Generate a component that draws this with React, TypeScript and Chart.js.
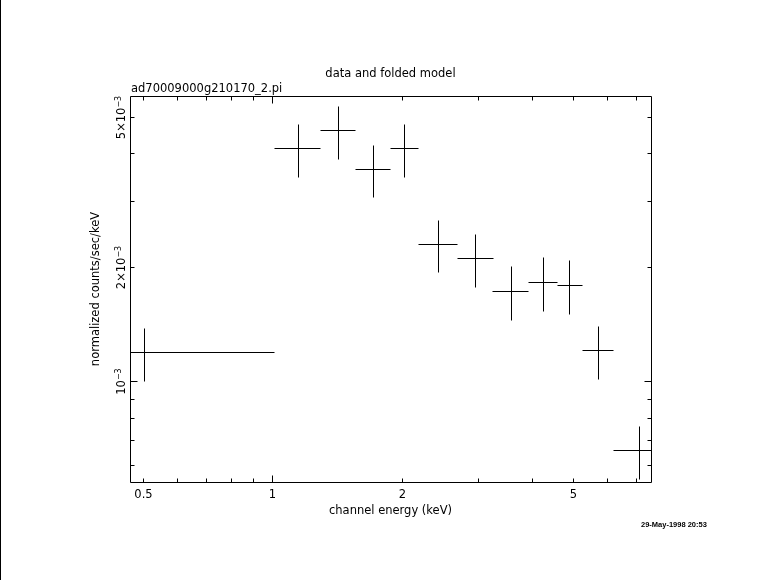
import { useEffect, useRef } from 'react';
import { Chart, registerables } from 'chart.js';

Chart.register(...registerables);

// ---- data (channel energy in keV, normalized counts/sec/keV) ----
const energy = [0.504, 1.148, 1.421, 1.717, 2.027, 2.427, 2.963, 3.589, 4.252, 4.898, 5.71, 7.117];
const energyErr = [0.504, 0.141, 0.134, 0.164, 0.147, 0.253, 0.283, 0.344, 0.319, 0.327, 0.485, 0.922];
const rate = [1.193e-3, 4.124e-3, 4.6e-3, 3.63e-3, 4.12e-3, 2.305e-3, 2.113e-3, 1.731e-3, 1.829e-3, 1.793e-3, 1.207e-3, 0.6586e-3];
const rateErr = [0.189e-3, 0.655e-3, 0.73e-3, 0.565e-3, 0.65e-3, 0.366e-3, 0.336e-3, 0.28e-3, 0.298e-3, 0.291e-3, 0.196e-3, 0.105e-3];

// ---- axes ----
const X_MIN = 0.4671;
const X_MAX = 7.576;
const Y_MIN = 5.42e-4;
const Y_MAX = 5.666e-3;
const xMajorTicks = [1];
const xMinorTicks = [0.5, 0.6, 0.7, 0.8, 0.9, 2, 3, 4, 5, 6, 7];
const xLabelValues = [0.5, 1, 2, 5];
const xLabelTexts = ['0.5', '1', '2', '5'];
const yMajorTicks = [1e-3];
const yMinorTicks = [6e-4, 7e-4, 8e-4, 9e-4, 2e-3, 3e-3, 4e-3, 5e-3];
const yLabelValues = [1e-3, 2e-3, 5e-3];
const yLabelMantissa = ['', '2\u00d7', '5\u00d7'];
const yLabelExponent = '\u22123';

const TITLE = 'data and folded model';
const FILE_LABEL = 'ad70009000g210170_2.pi';
const X_TITLE = 'channel energy (keV)';
const Y_TITLE = 'normalized counts/sec/keV';
const DATE_LABEL = '29-May-1998 20:53';

const FONT = '"DejaVu Sans", sans-serif';

const pgplotPlugin = {
  id: 'pgplotFrame',
  afterDraw(chart: any) {
    const { ctx, chartArea: a, scales } = chart;
    const xs = scales.x;
    const ys = scales.y;
    const px = (v: number) => Math.round(xs.getPixelForValue(v)) + 0.5;
    const py = (v: number) => Math.round(ys.getPixelForValue(v)) + 0.5;
    const L = a.left + 0.5, R = a.right + 0.5, T = a.top + 0.5, B = a.bottom + 0.5;

    ctx.save();
    ctx.strokeStyle = '#000';
    ctx.fillStyle = '#000';
    ctx.lineWidth = 1;

    // page left edge line
    ctx.fillRect(0, 0, 1, chart.height);

    // frame
    ctx.beginPath();
    ctx.rect(L, T, R - L, B - T);
    ctx.stroke();

    // ticks (inside)
    const xTick = (v: number, len: number) => {
      const x = px(v);
      ctx.moveTo(x, B); ctx.lineTo(x, B - len);
      ctx.moveTo(x, T); ctx.lineTo(x, T + len);
    };
    const yTick = (v: number, len: number) => {
      const y = py(v);
      ctx.moveTo(L, y); ctx.lineTo(L + len, y);
      ctx.moveTo(R, y); ctx.lineTo(R - len, y);
    };
    ctx.beginPath();
    xMajorTicks.forEach((v) => xTick(v, 7));
    xMinorTicks.forEach((v) => xTick(v, 4));
    yMajorTicks.forEach((v) => yTick(v, 7));
    yMinorTicks.forEach((v) => yTick(v, 4));
    ctx.stroke();

    // error-bar crosses
    ctx.save();
    ctx.beginPath();
    ctx.rect(a.left, a.top, a.right - a.left + 1, a.bottom - a.top + 1);
    ctx.clip();
    ctx.beginPath();
    const pts = chart.data.datasets[0].data;
    pts.forEach((p: any) => {
      const lo = p.x - p.xErr;
      const x1 = lo > 0 ? px(lo) : L;
      const x2 = px(p.x + p.xErr);
      const y = py(p.y);
      ctx.moveTo(x1, y); ctx.lineTo(x2, y);
      const x = px(p.x);
      ctx.moveTo(x, py(p.y + p.yErr)); ctx.lineTo(x, py(p.y - p.yErr));
    });
    ctx.stroke();
    ctx.restore();

    // texts
    const cx = (a.left + a.right) / 2;
    ctx.font = `11.5px ${FONT}`;
    ctx.textBaseline = 'alphabetic';
    ctx.textAlign = 'center';
    ctx.fillText(TITLE, cx, 77);
    ctx.textAlign = 'left';
    ctx.fillText(FILE_LABEL, a.left + 1, 92);
    ctx.textAlign = 'center';
    xLabelValues.forEach((v, i) => ctx.fillText(xLabelTexts[i], px(v), 498));
    ctx.fillText(X_TITLE, cx, 514);

    ctx.save();
    ctx.translate(99, (a.top + a.bottom) / 2);
    ctx.rotate(-Math.PI / 2);
    ctx.textAlign = 'center';
    ctx.fillText(Y_TITLE, 0, 0);
    ctx.restore();

    yLabelValues.forEach((v, i) => {
      const main = yLabelMantissa[i] + '10';
      ctx.save();
      ctx.translate(124.5, py(v));
      ctx.rotate(-Math.PI / 2);
      ctx.textAlign = 'left';
      ctx.font = `11.5px ${FONT}`;
      const wMain = ctx.measureText(main).width;
      ctx.font = `8px ${FONT}`;
      const wSup = ctx.measureText(yLabelExponent).width;
      const start = -(wMain + wSup) / 2;
      ctx.font = `11.5px ${FONT}`;
      ctx.fillText(main, start, 0);
      ctx.font = `8px ${FONT}`;
      ctx.fillText(yLabelExponent, start + wMain, -4);
      ctx.restore();
    });

    ctx.font = `bold 7.5px "Liberation Sans", sans-serif`;
    ctx.textAlign = 'left';
    ctx.fillText(DATE_LABEL, 641, 527);

    ctx.restore();
  },
};

export default function App() {
  const ref = useRef<HTMLCanvasElement>(null);
  useEffect(() => {
    const chart = new Chart(ref.current as HTMLCanvasElement, {
      type: 'scatter',
      data: {
        datasets: [
          {
            data: energy.map((x, i) => ({ x, y: rate[i], xErr: energyErr[i], yErr: rateErr[i] })) as any,
            pointRadius: 0,
            showLine: false,
          },
        ],
      },
      options: {
        responsive: false,
        animation: false,
        events: [],
        layout: { padding: { left: 130, top: 96, right: 130, bottom: 98 } },
        plugins: {
          legend: { display: false },
          title: { display: false },
          tooltip: { enabled: false },
        },
        scales: {
          x: { type: 'logarithmic', min: X_MIN, max: X_MAX, display: false, bounds: 'data' },
          y: { type: 'logarithmic', min: Y_MIN, max: Y_MAX, display: false, bounds: 'data' },
        },
      },
      plugins: [pgplotPlugin],
    });
    return () => chart.destroy();
  }, []);
  return (
    <div style={{ position: 'fixed', left: 0, top: 0, width: 781, height: 580, background: '#fff' }}>
      <canvas ref={ref} width={781} height={580} style={{ display: 'block', width: 781, height: 580 }} />
    </div>
  );
}
